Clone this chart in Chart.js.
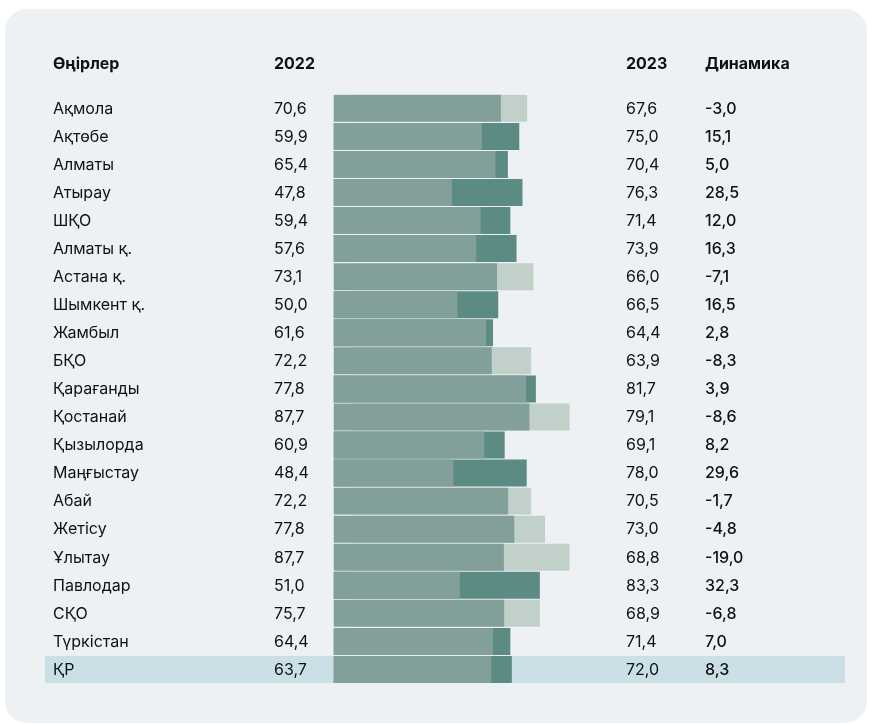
<!DOCTYPE html>
<html>
<head>
<meta charset="utf-8">
<script src="https://cdn.jsdelivr.net/npm/chart.js@4"></script>
<style>
  html, body { margin: 0; padding: 0; background: #ffffff; }
  #wrap { position: relative; width: 869px; height: 724px; overflow: hidden; }
  #card { position: absolute; left: 5px; top: 9px; width: 862px; height: 714px; border-radius: 22px; background: #edf1f4; }
  #cv { position: absolute; left: 0; top: 0; }
</style>
</head>
<body>
<div id="wrap">
  <div id="card"></div>
  <canvas id="cv" width="869" height="724"></canvas>
</div>
<script>
const regions = ['Ақмола','Ақтөбе','Алматы','Атырау','ШҚО','Алматы қ.','Астана қ.','Шымкент қ.','Жамбыл','БҚО','Қарағанды','Қостанай','Қызылорда','Маңғыстау','Абай','Жетісу','Ұлытау','Павлодар','СҚО','Түркістан','ҚР'];
const values2022 = [70.6,59.9,65.4,47.8,59.4,57.6,73.1,50.0,61.6,72.2,77.8,87.7,60.9,48.4,72.2,77.8,87.7,51.0,75.7,64.4,63.7];
const values2023 = [67.6,75.0,70.4,76.3,71.4,73.9,66.0,66.5,64.4,63.9,81.7,79.1,69.1,78.0,70.5,73.0,68.8,83.3,68.9,71.4,72.0];
const dynamics = [-3.0,15.1,5.0,28.5,12.0,16.3,-7.1,16.5,2.8,-8.3,3.9,-8.6,8.2,29.6,-1.7,-4.8,-19.0,32.3,-6.8,7.0,8.3];
const headers = ['Өңірлер', '2022', '2023', 'Динамика'];
const totalLabel = 'ҚР';

const baseVals = values2022.map((v, i) => Math.min(v, values2023[i]));
const riseVals = values2022.map((v, i) => values2023[i] > v ? values2023[i] : null);
const fallVals = values2022.map((v, i) => values2023[i] < v ? v : null);

const fmt = v => v.toFixed(1).replace('.', ',');
const FONT = 'Inter, "Noto Sans", sans-serif';
const colX = { name: 53, v22: 274, v23: 626, dyn: 705 };

const tablePlugin = {
  id: 'tablePlugin',
  beforeDatasetsDraw(chart) {
    const ctx = chart.ctx;
    const y = chart.scales.y;
    const idx = regions.indexOf(totalLabel);
    const yc = y.getPixelForValue(idx);
    const h = (y.getPixelForValue(1) - y.getPixelForValue(0)) * 0.965;
    ctx.save();
    ctx.fillStyle = '#cbe0e6';
    ctx.fillRect(45, yc - h / 2, 800, h);
    ctx.restore();
  },
  afterDatasetsDraw(chart) {
    const ctx = chart.ctx;
    const y = chart.scales.y;
    ctx.save();
    ctx.textBaseline = 'middle';
    ctx.textAlign = 'left';
    ctx.fillStyle = '#111111';
    const hy = y.getPixelForValue(0) - 44;
    ctx.font = '700 16px ' + FONT;
    ctx.fillText(headers[0], colX.name, hy);
    ctx.fillText(headers[1], colX.v22, hy);
    ctx.fillText(headers[2], colX.v23, hy);
    ctx.fillText(headers[3], colX.dyn, hy);
    regions.forEach((r, i) => {
      const yy = y.getPixelForValue(i) + 0.5;
      ctx.font = '400 16px ' + FONT;
      ctx.fillText(r, colX.name, yy);
      ctx.fillText(fmt(values2022[i]), colX.v22, yy);
      ctx.fillText(fmt(values2023[i]), colX.v23, yy);
      ctx.font = '500 16px ' + FONT;
      ctx.fillText(fmt(dynamics[i]), colX.dyn, yy);
    });
    ctx.restore();
  }
};

new Chart(document.getElementById('cv'), {
  type: 'bar',
  data: {
    labels: regions,
    datasets: [
      { label: 'base', data: baseVals, backgroundColor: '#82a099', xAxisID: 'x' },
      { label: 'rise', data: riseVals, backgroundColor: '#5c8b83', xAxisID: 'x' },
      { label: 'fall', data: fallVals, backgroundColor: '#c1d1ca', xAxisID: 'x2' }
    ]
  },
  options: {
    indexAxis: 'y',
    responsive: false,
    animation: false,
    layout: { padding: { left: 333.5, right: 287.8, top: 94.3, bottom: 40.5 } },
    datasets: { bar: { grouped: false, barPercentage: 0.962, categoryPercentage: 1, borderWidth: 0 } },
    scales: {
      y: { type: 'category', display: false, offset: true, grid: { display: false } },
      x: { type: 'linear', display: false, min: 0, max: 100 },
      x2: { type: 'linear', display: false, min: -7.6, max: 92.4 }
    },
    plugins: { legend: { display: false }, tooltip: { enabled: false } }
  },
  plugins: [tablePlugin]
});
</script>
</body>
</html>
